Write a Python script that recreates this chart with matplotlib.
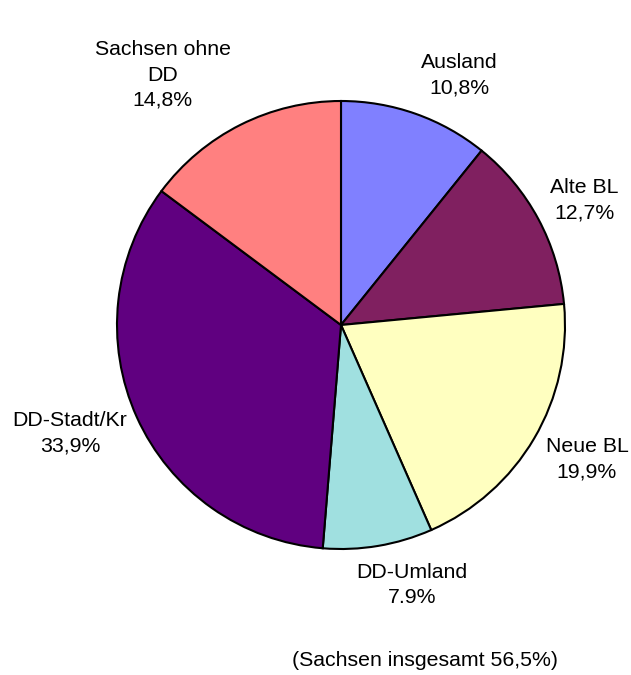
import matplotlib

matplotlib.use("Agg")
import matplotlib.pyplot as plt

plt.rcParams["font.family"] = ["Liberation Sans", "DejaVu Sans"]

# Herkunft der Studierenden, Anteile in Prozent (im Uhrzeigersinn ab 12 Uhr)
regions = ["Ausland", "Alte BL", "Neue BL", "DD-Umland", "DD-Stadt/Kr", "Sachsen ohne\nDD"]
shares = [10.8, 12.7, 19.9, 7.9, 33.9, 14.8]
decimal_sep = [",", ",", ",", ".", ",", ","]
colors = ["#8080FF", "#802060", "#FFFFC0", "#A0E0E0", "#600080", "#FF8080"]
sachsen_total = 56.5

# label centres in pie units (radius = 1)
label_pos = [(0.527, 1.114), (1.085, 0.558), (1.098, -0.598), (0.317, -1.161),
             (-1.21, -0.482), (-0.795, 1.116)]

W, H = 631, 675
cx, cy, r = 341, 325, 224

fig = plt.figure(figsize=(W / 100, H / 100), dpi=100)
ax = fig.add_axes([(cx - r) / W, (H - cy - r) / H, 2 * r / W, 2 * r / H])
ax.pie(shares, colors=colors, startangle=90, counterclock=False,
       wedgeprops=dict(edgecolor="black", linewidth=1.5))
ax.set_xlim(-1, 1)
ax.set_ylim(-1, 1)
ax.axis("off")

for name, val, sep, (x, y) in zip(regions, shares, decimal_sep, label_pos):
    pct = f"{val:.1f}".replace(".", sep)
    ax.text(x, y, f"{name}\n{pct}%", ha="center", va="center", fontsize=15.3,
            linespacing=1.42, clip_on=False)

fig.text(425.5 / W, 1 - 660 / H, f"(Sachsen insgesamt {sachsen_total:.1f}%)".replace(".", ","),
         ha="center", va="center", fontsize=15.3)

fig.savefig("out.png", dpi=100, facecolor="white")
